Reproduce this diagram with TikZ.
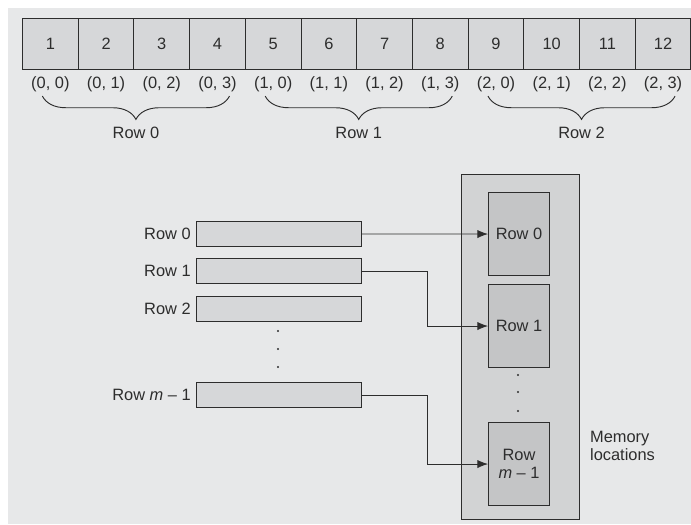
\documentclass[tikz,border=0pt]{standalone}
\usepackage{fontspec}
\setmainfont{Liberation Sans}
\usetikzlibrary{arrows.meta,calc,decorations.pathreplacing}
\definecolor{paper}{RGB}{231,232,233}
\definecolor{cellgray}{RGB}{214,215,217}
\definecolor{memgray}{RGB}{210,211,212}
\definecolor{slotgray}{RGB}{196,197,198}
\definecolor{ink}{RGB}{45,45,45}

\begin{document}
\begin{tikzpicture}[x=0.03cm, y=-0.03cm, >=Stealth,
    font=\fontsize{14}{15.5}\selectfont, text=ink,
    cellbox/.style={draw=ink, fill=cellgray, line width=0.9pt, inner sep=0pt,
        minimum width=1.671cm, minimum height=1.53cm, anchor=north west},
    rowbar/.style={draw=ink, fill=cellgray, line width=0.9pt, inner sep=0pt,
        minimum width=4.95cm, minimum height=0.75cm, anchor=north west},
    slot/.style={draw=ink, fill=slotgray, line width=0.9pt, inner sep=0pt, align=center,
        minimum width=1.83cm, minimum height=2.49cm, anchor=north west},
    brace/.style={draw=ink, line width=0.8pt,
        decorate, decoration={brace, mirror, amplitude=0.7cm}},
    link/.style={draw=ink, line width=0.7pt, -{Latex[length=9pt,width=7pt]}}]
    \useasboundingbox (0,0) rectangle (691,524);
    \fill[paper] (8,8) rectangle (691,524);

    % Draw the flat array of 12 cells
    \foreach \i in {1,...,12}
        \node[cellbox] (c\i) at ({22+55.7*(\i-1)},18) {\i};

    % Index pairs and row braces
    \foreach \r in {0,1,2} {
        \foreach \c in {0,...,3} {
            \pgfmathtruncatemacro{\n}{4*\r+\c+1}
            \node (ix\r\c) at ($(c\n.south)+(0,14)$) {(\r, \c)};
        }
        \coordinate (bl\r) at ($(ix\r0)+(-8,12)$);
        \coordinate (br\r) at ($(ix\r3)+(12,12)$);
        \draw[brace] (bl\r) -- (br\r);
        \node (rl\r) at ($(bl\r)!0.5!(br\r)+(0,37)$) {Row \r};
    }

    % Row buffers
    \node[rowbar] (r0) at (196,221) {};
    \node[rowbar] (r1) at (196,258) {};
    \node[rowbar] (r2) at (196,296) {};
    \node[rowbar] (rm) at (196,382) {};
    \node[left=1pt] (l0) at (r0.west) {Row 0};
    \node[left=1pt] (l1) at (r1.west) {Row 1};
    \node[left=1pt] (l2) at (r2.west) {Row 2};
    \node[left=1pt] (lm) at (rm.west) {Row \textit{m} – 1};
    \foreach \y in {331,349,367}
        \fill[ink] (278,\y) circle [radius=0.9pt];

    % Memory block
    \node[draw=ink, fill=memgray, line width=0.9pt, inner sep=0pt, anchor=north west,
        minimum width=3.54cm, minimum height=10.35cm] (mem) at (461,174) {};
    \node[slot] (m0) at (488,192) {Row 0};
    \node[slot] (m1) at (488,284) {Row 1};
    \node[slot] (mm) at (488,422) {Row\\\textit{m} – 1};
    \foreach \y in {375,392,411}
        \fill[ink] (518,\y) circle [radius=0.9pt];
    \node[anchor=west, align=left] (memlbl) at (586,446) {Memory\\locations};

    % Connectors
    \coordinate (bend) at (427,0);
    \draw[link] (r0.east) -- (m0.west);
    \draw[link] (r1.east) -- (r1.east -| bend) |- (m1.west);
    \draw[link] (rm.east) -- (rm.east -| bend) |- (mm.west);
\end{tikzpicture}
\end{document}
